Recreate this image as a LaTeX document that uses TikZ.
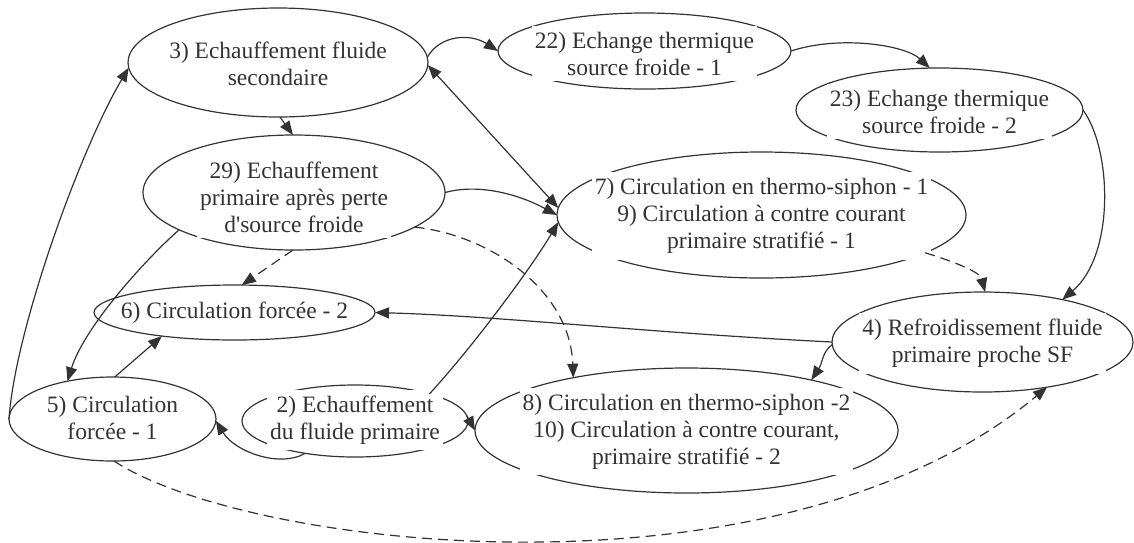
\documentclass[tikz,border=0pt]{standalone}
\usepackage{fontspec}
\setmainfont{Liberation Serif}
\usetikzlibrary{shapes.geometric,arrows.meta}
\definecolor{ink}{HTML}{333333}
\begin{document}
\begin{tikzpicture}[x=1pt,y=-1pt,
  ell/.style={ellipse,draw=ink,line width=1.2pt,inner sep=0pt,outer sep=0pt},
  lbl/.style={fill=white,text=ink,align=center,inner xsep=3pt,inner ysep=6pt,font=\fontsize{23.5}{27}\selectfont},
  con/.style={draw=ink,line width=1.2pt,-{Triangle[length=14pt,width=11pt]}},
  dcon/.style={con,dash pattern=on 10pt off 6pt},
  both/.style={draw=ink,line width=1.2pt,{Triangle[length=14pt,width=11pt]}-{Triangle[length=14pt,width=11pt]}}]
\useasboundingbox (0,0) rectangle (1134,542);

% ellipses
\node[ell,minimum width=300pt,minimum height=109pt] (n3) at (278,62.5) {};
\node[ell,minimum width=293pt,minimum height=76pt] (n22) at (644.5,51) {};
\node[ell,minimum width=287pt,minimum height=84pt] (n23) at (939.5,110) {};
\node[ell,minimum width=302pt,minimum height=115pt] (n29) at (294,192.5) {};
\node[ell,minimum width=409pt,minimum height=126pt] (n79) at (761.5,215) {};
\node[ell,minimum width=281pt,minimum height=55pt] (n6) at (234.5,312.5) {};
\node[ell,minimum width=301pt,minimum height=100pt] (n4) at (982.5,342) {};
\node[ell,minimum width=207pt,minimum height=84pt] (n5) at (112.5,419) {};
\node[ell,minimum width=226pt,minimum height=72pt] (n2) at (355,421) {};
\node[ell,minimum width=423pt,minimum height=125pt] (n810) at (686.5,430.5) {};

% labels
\node[lbl] (t3) at (278,63.5) {3) Echauffement fluide\\secondaire};
\node[lbl] (t22) at (644.5,53.5) {22) Echange thermique\\source froide - 1};
\node[lbl] (t23) at (939.5,111.5) {23) Echange thermique\\source froide - 2};
\node[lbl] (t29) at (294,197) {29) Echauffement\\primaire après perte\\d\textquotesingle source froide};
\node[lbl] (t79) at (761.5,216) {7) Circulation en thermo-siphon - 1\\9) Circulation à contre courant\\primaire stratifié - 1};
\node[lbl,inner ysep=2pt] (t6) at (234.5,313) {6) Circulation forcée - 2};
\node[lbl] (t4) at (982.5,343.5) {4) Refroidissement fluide\\primaire proche SF};
\node[lbl] (t5) at (112.5,417.5) {5) Circulation\\forcée - 1};
\node[lbl] (t2) at (355,420) {2) Echauffement\\du fluide primaire};
\node[lbl] (t810) at (686.5,431.5) {8) Circulation en thermo-siphon -2\\10) Circulation à contre courant,\\primaire stratifié - 2};

% connectors
\draw[con] (n3.2) .. controls (440,35) and (470,33) .. (n22.180);
\draw[con] (n22.0) .. controls (840,35) and (905,45) .. (n23.103);
\draw[con] (n23.0) .. controls (1112,150) and (1115,255) .. (n4.28);
\draw[both] (n3.-1) -- (n79.178);
\draw[con] (n29.0) .. controls (480,183) and (520,195) .. (n79.180);
\draw[con] (n2.20) .. controls (470,350) and (530,270) .. (n79.182);
\draw[con] (n3.-88) -- (n29.91);
\draw[con] (n29.198) .. controls (150,255) and (85,325) .. (n5.140);
\draw[dcon] (n29.-91) -- (n6.75);
\draw[dcon] (n29.-16) .. controls (490,235) and (570,290) .. (n810.155);
\draw[dcon] (n79.-13) .. controls (955,262) and (980,272) .. (n4.87);
\draw[con] (n4.180) .. controls (650,333) and (500,316) .. (n6.0);
\draw[con] (n4.181) .. controls (822,352) and (823,362) .. (n810.22);
\draw[con] (n5.180) .. controls (15,330) and (80,150) .. (n3.182);
\draw[con] (n5.87) -- (n6.198);
\draw[con] (n2.213) .. controls (280,468) and (235,452) .. (n5.-1);
\draw[con] (n2.3) -- (n810.180);
\draw[dcon] (n5.-88) .. controls (250,550) and (780,610) .. (n4.-35);
\end{tikzpicture}
\end{document}
